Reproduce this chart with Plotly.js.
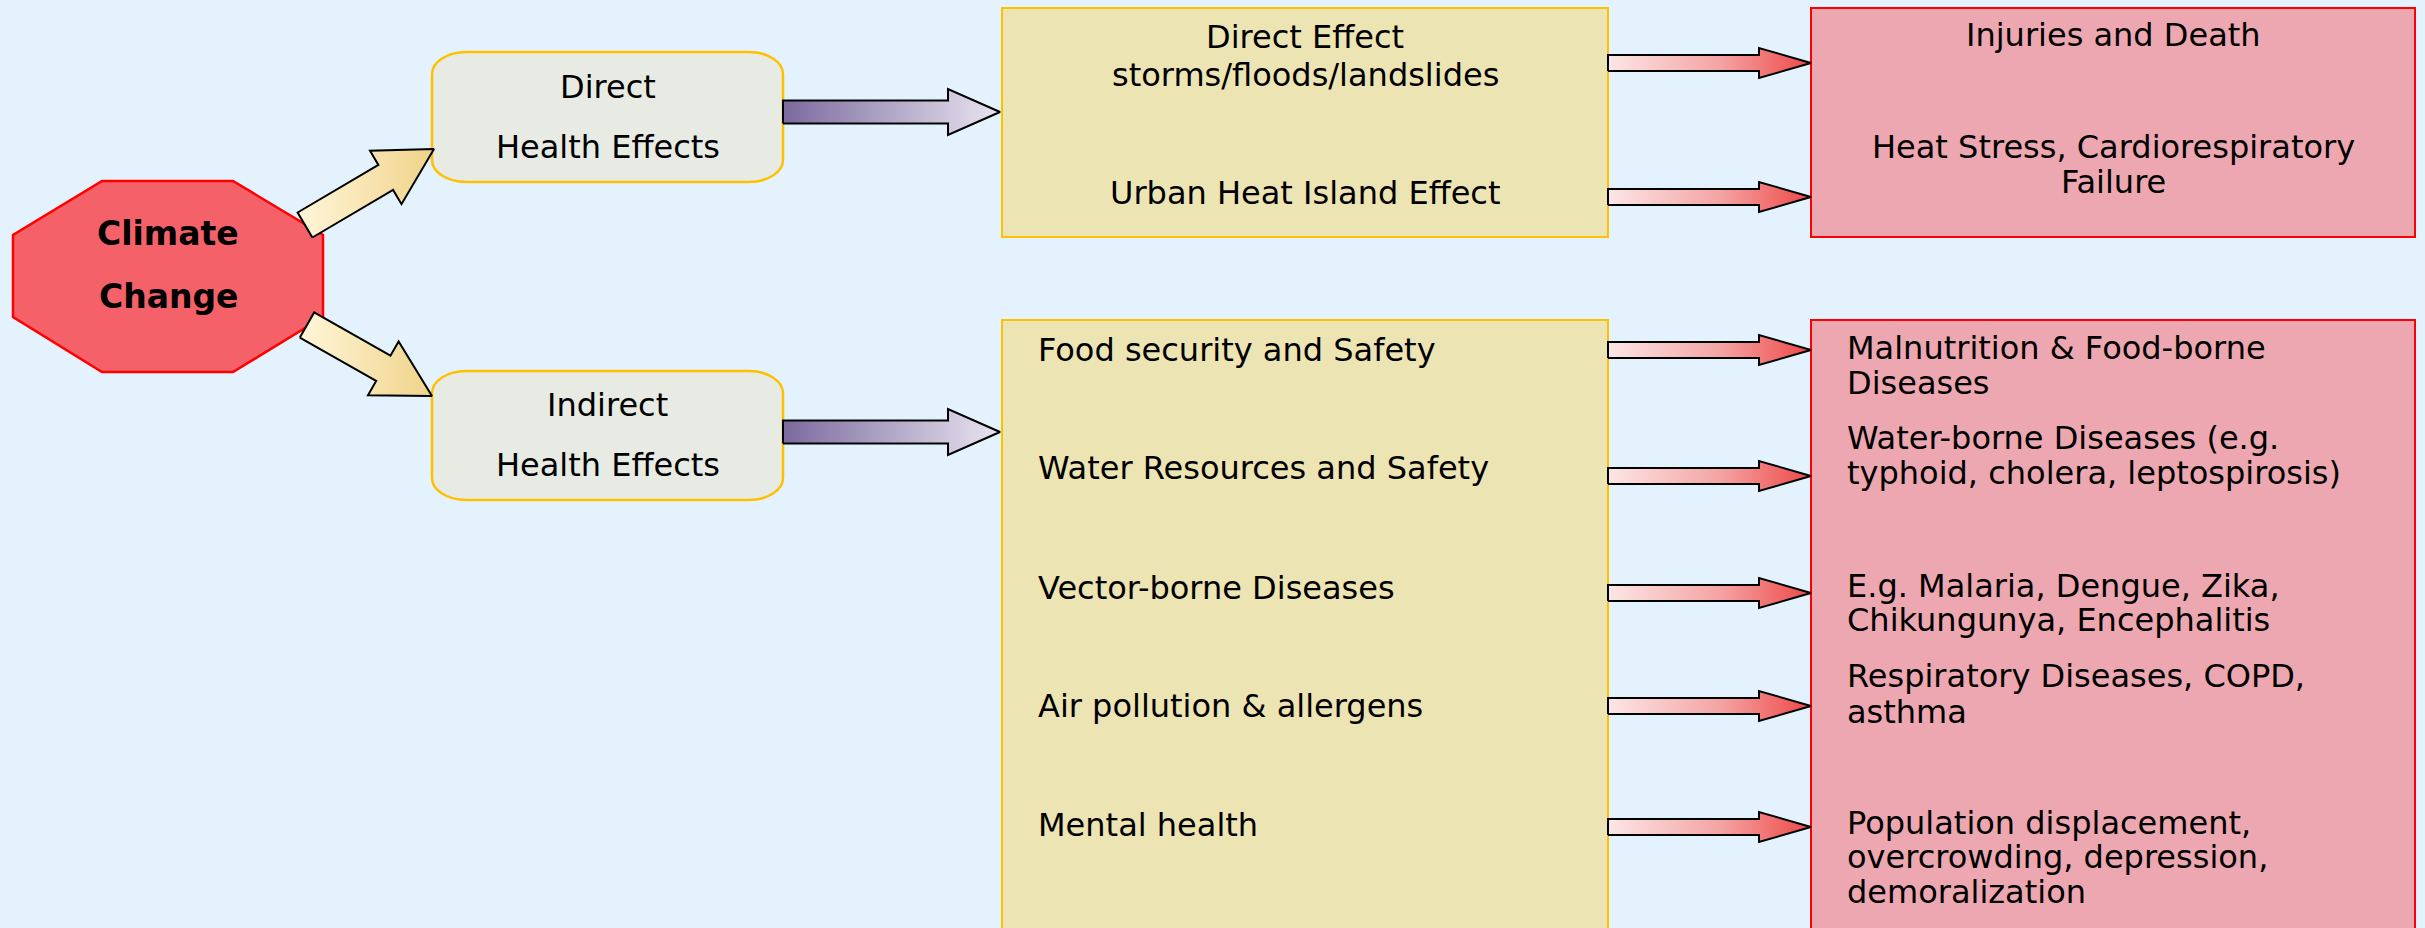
<!DOCTYPE html>
<html>
<head>
<meta charset="utf-8">
<script src="https://cdn.plot.ly/plotly-3.0.1.min.js"></script>
<style>
html,body{margin:0;padding:0;background:#E4F2FE;}
#chart{width:2425px;height:928px;}
</style>
</head>
<body>
<div id="chart"></div>
<script>
// ---------------- content (text of the diagram) ----------------
const sourceLabel = ['Climate', 'Change'];
const pathwayLabels = [['Direct', 'Health Effects'], ['Indirect', 'Health Effects']];
const directExposures = [['Direct Effect', 'storms/floods/landslides'], ['Urban Heat Island Effect']];
const directOutcomes = [['Injuries and Death'], ['Heat Stress, Cardiorespiratory', 'Failure']];
const indirectExposures = ['Food security and Safety', 'Water Resources and Safety',
  'Vector-borne Diseases', 'Air pollution & allergens', 'Mental health'];
const indirectOutcomes = [
  ['Malnutrition & Food-borne', 'Diseases'],
  ['Water-borne Diseases (e.g.', 'typhoid, cholera, leptospirosis)'],
  ['E.g. Malaria, Dengue, Zika,', 'Chikungunya, Encephalitis'],
  ['Respiratory Diseases, COPD,', 'asthma'],
  ['Population displacement,', 'overcrowding, depression,', 'demoralization']
];

// ---------------- layout geometry (pixel-like coordinates) ----------------
const W = 2425, H = 928;
const FONT = 'DejaVu Sans';
const FS = 32;

const octagon = {x0: 13, x1: 323, y0: 181, y1: 372, cx: 102, cx2: 233, cy: 235, cy2: 317};
const pathBoxes = [{x0: 432, x1: 783, y0: 52, y1: 182, ty: [87, 147]},
                   {x0: 432, x1: 783, y0: 371, y1: 500, ty: [405, 465]}];
const midTop = {x0: 1002, x1: 1608, y0: 8, y1: 237};
const outTop = {x0: 1811, x1: 2415, y0: 8, y1: 237};
const midBot = {x0: 1002, x1: 1608, y0: 320, y1: 940};
const outBot = {x0: 1811, x1: 2415, y0: 320, y1: 940};

const directExpY = [[37, 75], [193]];
const directOutY = [[35], [147, 182]];
const directArrowY = [63, 197];
const indirectExpY = [350, 468, 588, 706, 825];
const indirectArrowY = [350, 476, 593, 706, 827];
const indirectOutY = [[348, 383], [438, 473], [586, 620], [676, 712], [823, 857, 892]];

// ---------------- helpers ----------------
function roundedPath(b, rx, ry) {
  const k = 0.552;
  const {x0, x1, y0, y1} = b;
  return `M${x0+rx},${y0} L${x1-rx},${y0} C${x1-rx+rx*k},${y0} ${x1},${y0+ry-ry*k} ${x1},${y0+ry}` +
    ` L${x1},${y1-ry} C${x1},${y1-ry+ry*k} ${x1-rx+rx*k},${y1} ${x1-rx},${y1}` +
    ` L${x0+rx},${y1} C${x0+rx-rx*k},${y1} ${x0},${y1-ry+ry*k} ${x0},${y1-ry}` +
    ` L${x0},${y0+ry} C${x0},${y0+ry-ry*k} ${x0+rx-rx*k},${y0} ${x0+rx},${y0} Z`;
}

function blockArrow(x0, y0, x1, y1, s, h, L, colors) {
  const dx = x1 - x0, dy = y1 - y0, len = Math.hypot(dx, dy);
  const ux = dx / len, uy = dy / len, nx = -uy, ny = ux;
  const bx = x1 - ux * L, by = y1 - uy * L;
  const pts = [
    [x0 + nx * s, y0 + ny * s], [bx + nx * s, by + ny * s], [bx + nx * h, by + ny * h],
    [x1, y1], [bx - nx * h, by - ny * h], [bx - nx * s, by - ny * s],
    [x0 - nx * s, y0 - ny * s], [x0 + nx * s, y0 + ny * s]
  ];
  return {
    type: 'scatter', mode: 'lines', x: pts.map(p => p[0]), y: pts.map(p => p[1]),
    fill: 'toself', fillcolor: colors[colors.length - 1][1],
    fillgradient: {type: 'horizontal', colorscale: colors},
    line: {color: '#000000', width: 2}, hoverinfo: 'skip', showlegend: false
  };
}

function ann(text, x, y, anchor, opts) {
  return Object.assign({
    text: text, x: x, y: y, xref: 'x', yref: 'y', showarrow: false,
    xanchor: anchor, yanchor: 'middle',
    font: {family: FONT, size: FS, color: '#000000'}
  }, opts || {});
}

// ---------------- shapes ----------------
const shapes = [];
const o = octagon;
shapes.push({type: 'path', xref: 'x', yref: 'y',
  path: `M${o.cx},${o.y0} L${o.cx2},${o.y0} L${o.x1},${o.cy} L${o.x1},${o.cy2} L${o.cx2},${o.y1} L${o.cx},${o.y1} L${o.x0},${o.cy2} L${o.x0},${o.cy} Z`,
  fillcolor: '#F56168', line: {color: '#FF0000', width: 2.5}, layer: 'below'});
pathBoxes.forEach(b => shapes.push({type: 'path', xref: 'x', yref: 'y', path: roundedPath(b, 34, 22),
  fillcolor: '#E7EBE4', line: {color: '#FFC000', width: 2.5}, layer: 'below'}));
[midTop, midBot].forEach(b => shapes.push({type: 'rect', xref: 'x', yref: 'y', x0: b.x0, x1: b.x1, y0: b.y0, y1: b.y1,
  fillcolor: '#ECE4B3', line: {color: '#FFC000', width: 2}, layer: 'below'}));
[outTop, outBot].forEach(b => shapes.push({type: 'rect', xref: 'x', yref: 'y', x0: b.x0, x1: b.x1, y0: b.y0, y1: b.y1,
  fillcolor: '#EDA7B1', line: {color: '#FF0000', width: 2}, layer: 'below'}));

// ---------------- arrows ----------------
const yellow = [[0, '#FFF6DA'], [1, '#F0D389']];
const purple = [[0, '#7B6A9E'], [1, '#E9E5F1']];
const red = [[0, '#FDE6E6'], [0.55, '#F4A4A4'], [1, '#EE4848']];
const traces = [];
traces.push(blockArrow(305, 225, 434, 149, 14.5, 31, 56, yellow));
traces.push(blockArrow(307, 325, 432, 396, 14.5, 31, 56, yellow));
traces.push(blockArrow(783, 112, 1000, 112, 11.5, 23, 52, purple));
traces.push(blockArrow(783, 432, 1000, 432, 11.5, 23, 52, purple));
directArrowY.forEach(y => traces.push(blockArrow(1608, y, 1811, y, 8, 15, 52, red)));
indirectArrowY.forEach(y => traces.push(blockArrow(1608, y, 1811, y, 8, 15, 52, red)));

// ---------------- text ----------------
const annotations = [];
const ocx = (o.x0 + o.x1) / 2;
annotations.push(ann(sourceLabel[0], ocx, 233, 'center', {font: {family: FONT, size: 33, color: '#000', weight: 'bold'}}));
annotations.push(ann(sourceLabel[1], ocx, 296, 'center', {font: {family: FONT, size: 33, color: '#000', weight: 'bold'}}));
pathBoxes.forEach((b, i) => pathwayLabels[i].forEach((t, j) =>
  annotations.push(ann(t, (b.x0 + b.x1) / 2, b.ty[j], 'center'))));
directExposures.forEach((lines, i) => lines.forEach((t, j) =>
  annotations.push(ann(t, (midTop.x0 + midTop.x1) / 2, directExpY[i][j], 'center'))));
directOutcomes.forEach((lines, i) => lines.forEach((t, j) =>
  annotations.push(ann(t, (outTop.x0 + outTop.x1) / 2, directOutY[i][j], 'center'))));
indirectExposures.forEach((t, i) => annotations.push(ann(t, 1036, indirectExpY[i], 'left')));
indirectOutcomes.forEach((lines, i) => lines.forEach((t, j) =>
  annotations.push(ann(t, 1845, indirectOutY[i][j], 'left'))));

const layout = {
  width: W, height: H, margin: {l: 0, r: 0, t: 0, b: 0, pad: 0},
  paper_bgcolor: '#E4F2FE', plot_bgcolor: '#E4F2FE',
  xaxis: {range: [0, W], visible: false, fixedrange: true},
  yaxis: {range: [H, 0], visible: false, fixedrange: true},
  shapes: shapes, annotations: annotations, showlegend: false, hovermode: false
};

Plotly.newPlot('chart', traces, layout, {displayModeBar: false, staticPlot: true});
</script>
</body>
</html>
